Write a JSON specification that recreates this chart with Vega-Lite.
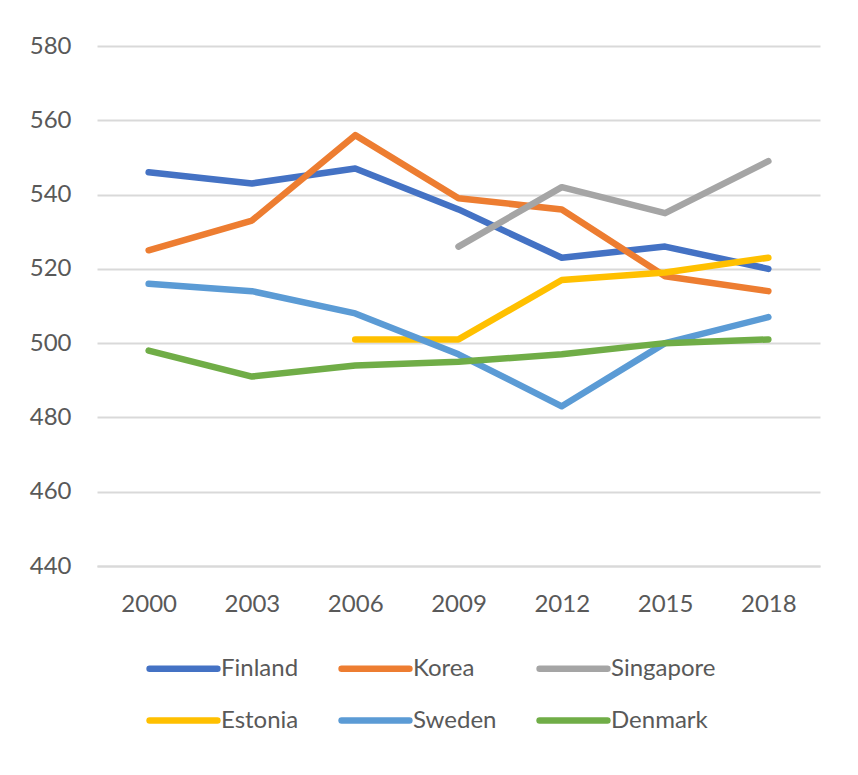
{
  "$schema": "https://vega.github.io/schema/vega-lite/v6.json",
  "width": 723,
  "height": 520,
  "autosize": {"type": "none"},
  "padding": {"left": 97, "top": 46, "right": 38, "bottom": 209},
  "background": "white",
  "data": {
    "values": [
      {"country": "Finland", "year": "2000", "score": 546},
      {"country": "Finland", "year": "2003", "score": 543},
      {"country": "Finland", "year": "2006", "score": 547},
      {"country": "Finland", "year": "2009", "score": 536},
      {"country": "Finland", "year": "2012", "score": 523},
      {"country": "Finland", "year": "2015", "score": 526},
      {"country": "Finland", "year": "2018", "score": 520},
      {"country": "Korea", "year": "2000", "score": 525},
      {"country": "Korea", "year": "2003", "score": 533},
      {"country": "Korea", "year": "2006", "score": 556},
      {"country": "Korea", "year": "2009", "score": 539},
      {"country": "Korea", "year": "2012", "score": 536},
      {"country": "Korea", "year": "2015", "score": 518},
      {"country": "Korea", "year": "2018", "score": 514},
      {"country": "Singapore", "year": "2009", "score": 526},
      {"country": "Singapore", "year": "2012", "score": 542},
      {"country": "Singapore", "year": "2015", "score": 535},
      {"country": "Singapore", "year": "2018", "score": 549},
      {"country": "Estonia", "year": "2006", "score": 501},
      {"country": "Estonia", "year": "2009", "score": 501},
      {"country": "Estonia", "year": "2012", "score": 517},
      {"country": "Estonia", "year": "2015", "score": 519},
      {"country": "Estonia", "year": "2018", "score": 523},
      {"country": "Sweden", "year": "2000", "score": 516},
      {"country": "Sweden", "year": "2003", "score": 514},
      {"country": "Sweden", "year": "2006", "score": 508},
      {"country": "Sweden", "year": "2009", "score": 497},
      {"country": "Sweden", "year": "2012", "score": 483},
      {"country": "Sweden", "year": "2015", "score": 500},
      {"country": "Sweden", "year": "2018", "score": 507},
      {"country": "Denmark", "year": "2000", "score": 498},
      {"country": "Denmark", "year": "2003", "score": 491},
      {"country": "Denmark", "year": "2006", "score": 494},
      {"country": "Denmark", "year": "2009", "score": 495},
      {"country": "Denmark", "year": "2012", "score": 497},
      {"country": "Denmark", "year": "2015", "score": 500},
      {"country": "Denmark", "year": "2018", "score": 501}
    ]
  },
  "mark": {"type": "line", "strokeWidth": 6.5, "strokeCap": "round", "strokeJoin": "round"},
  "encoding": {
    "x": {
      "field": "year",
      "type": "ordinal",
      "scale": {"type": "point", "padding": 0.5},
      "axis": {
        "title": null,
        "labelAngle": 0,
        "ticks": false,
        "domain": true,
        "domainColor": "#D9D9D9",
        "domainWidth": 2,
        "grid": false,
        "labelPadding": 26,
        "labelFontSize": 24,
        "labelFont": "Lato",
        "labelColor": "#595959"
      }
    },
    "y": {
      "field": "score",
      "type": "quantitative",
      "scale": {"domain": [440, 580], "zero": false, "nice": false},
      "axis": {
        "title": null,
        "values": [440, 460, 480, 500, 520, 540, 560, 580],
        "ticks": false,
        "domain": false,
        "grid": true,
        "gridColor": "#D9D9D9",
        "gridWidth": 2,
        "labelPadding": 26,
        "labelFontSize": 24,
        "labelFont": "Lato",
        "labelColor": "#595959"
      }
    },
    "color": {
      "field": "country",
      "type": "nominal",
      "sort": ["Finland", "Korea", "Singapore", "Estonia", "Sweden", "Denmark"],
      "scale": {
        "domain": ["Finland", "Korea", "Singapore", "Estonia", "Sweden", "Denmark"],
        "range": ["#4472C4", "#ED7D31", "#A5A5A5", "#FFC000", "#5B9BD5", "#70AD47"]
      },
      "legend": {
        "title": null,
        "orient": "none",
        "legendX": 49,
        "legendY": 585,
        "direction": "horizontal",
        "columns": 3,
        "columnPadding": 29,
        "rowPadding": 1,
        "symbolType": "stroke",
        "symbolSize": 4600,
        "symbolStrokeWidth": 6.5,
        "labelOffset": 0,
        "labelFontSize": 24,
        "labelFont": "Lato",
        "labelColor": "#595959",
        "labelLimit": 300,
        "encode": {"symbols": {"update": {"strokeCap": {"value": "round"}}}}
      }
    }
  },
  "config": {"view": {"stroke": null}}
}
